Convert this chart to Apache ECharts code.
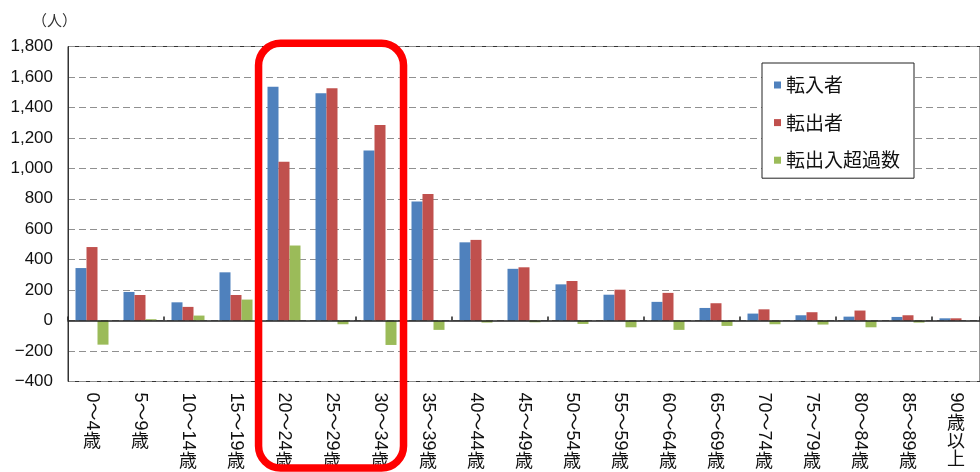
<!DOCTYPE html>
<html><head><meta charset="utf-8">
<script src="https://cdn.jsdelivr.net/npm/echarts@6/dist/echarts.min.js"></script>
<style>html,body{margin:0;padding:0;background:#fff}#c{width:980px;height:472px}</style>
</head><body><div id="c"></div>
<script>
// ---- data ----
const categories = ['0～4歳','5～9歳','10～14歳','15～19歳','20～24歳','25～29歳','30～34歳','35～39歳','40～44歳','45～49歳','50～54歳','55～59歳','60～64歳','65～69歳','70～74歳','75～79歳','80～84歳','85～89歳','90歳以上'];
const seriesNames = ['転入者','転出者','転出入超過数'];
const inMovers  = [345,188,120,317,1536,1493,1117,782,514,340,238,170,123,83,46,35,26,24,15];
const outMovers = [483,168,90,168,1043,1526,1285,832,530,350,260,203,182,114,74,55,66,35,15];
const netMigration = [-158,9,33,138,493,-24,-160,-61,-13,-11,-22,-44,-61,-35,-24,-26,-44,-13,0];
const yMin = -400, yMax = 1800, yStep = 200;
const unitLabel = '（人）';
const highlightFrom = 4, highlightTo = 6;

// ---- styling ----
const colors = ['#4F81BD','#C0504D','#9BBB59'];
const numFont = "'Liberation Sans', 'Noto Sans CJK JP', sans-serif";
const cjkFont = "'Noto Sans CJK JP', sans-serif";
const xFontSize = 18;

function splitLabel(s){ const m = s.match(/^([0-9～]+)(.*)$/); return m ? [m[1], m[2]] : [s, '']; }
const ctx = document.createElement('canvas').getContext('2d');
ctx.font = xFontSize + 'px ' + numFont;
const rich = { t: { fontSize: xFontSize, lineHeight: 18.3, fontFamily: cjkFont, color: '#111' } };
categories.forEach((c, i) => {
  rich['g' + i] = { fontSize: 1, lineHeight: ctx.measureText(splitLabel(c)[0]).width };
});

const chart = echarts.init(document.getElementById('c'), null, {renderer: 'canvas'});
const labelMargin = 11;
const option = {
  animation: false,
  title: { text: unitLabel, left: 32, top: 13, padding: 0,
    textStyle: { fontSize: 15, fontWeight: 'normal', color: '#333', fontFamily: cjkFont } },
  legend: {
    data: seriesNames, orient: 'vertical', left: 762, top: 63,
    padding: [12, 14, 8, 12], itemGap: 17.6, itemWidth: 7, itemHeight: 7, icon: 'rect',
    backgroundColor: '#fff', borderColor: '#222', borderWidth: 1, borderRadius: 0,
    textStyle: { fontSize: 19, lineHeight: 20, color: '#111', fontFamily: cjkFont }
  },
  grid: { left: 68, right: -14.5, top: 46.5, bottom: 90.5, containLabel: false,
    show: true, borderColor: '#333', borderWidth: 1, backgroundColor: 'transparent' },
  xAxis: [
    { type: 'category', data: categories, position: 'bottom', z: 3,
      axisLine: { onZero: true, lineStyle: { color: '#222', width: 1.5 } },
      axisTick: { show: true, inside: true, length: 4, lineStyle: { color: '#222', width: 1.5 } },
      axisLabel: { show: false }, splitLine: { show: false } },
    { type: 'category', data: categories, position: 'bottom',
      axisLine: { show: false, onZero: false }, axisTick: { show: false }, splitLine: { show: false },
      axisLabel: { interval: 0, rotate: -90, margin: labelMargin, fontSize: xFontSize, color: '#111',
        fontFamily: numFont, hideOverlap: false, formatter: v => splitLabel(v)[0] } },
    { type: 'category', data: categories, position: 'bottom',
      axisLine: { show: false, onZero: false }, axisTick: { show: false }, splitLine: { show: false },
      axisLabel: { interval: 0, margin: labelMargin, hideOverlap: false, rich: rich,
        formatter: (v, i) => '{g' + i + '| }\n' + splitLabel(v)[1].split('').map(ch => '{t|' + ch + '}').join('\n') } }
  ],
  yAxis: {
    type: 'value', min: yMin, max: yMax, interval: yStep,
    axisLine: { show: true, lineStyle: { color: '#333', width: 1 } },
    axisTick: { show: false },
    axisLabel: { fontSize: 17, color: '#111', margin: 15, fontFamily: numFont,
      formatter: v => (v < 0 ? '−' : '') + Math.abs(v).toLocaleString('en-US') },
    splitLine: { show: true, lineStyle: { color: '#909090', type: [7, 4], width: 1 } }
  },
  series: [
    { name: seriesNames[0], type: 'bar', data: inMovers, barWidth: 11, barGap: '0%', itemStyle: { color: colors[0] } },
    { name: seriesNames[1], type: 'bar', data: outMovers, barWidth: 11, barGap: '0%', itemStyle: { color: colors[1] } },
    { name: seriesNames[2], type: 'bar', data: netMigration, barWidth: 11, barGap: '0%', itemStyle: { color: colors[2] } }
  ]
};
chart.setOption(option);

// highlight frame around the 20～34歳 bands, positioned through the axis scales
const bw = chart.convertToPixel({xAxisIndex: 0}, categories[1]) - chart.convertToPixel({xAxisIndex: 0}, categories[0]);
const xl = chart.convertToPixel({xAxisIndex: 0}, categories[highlightFrom]) - 0.53 * bw;
const xr = chart.convertToPixel({xAxisIndex: 0}, categories[highlightTo]) + 0.49 * bw;
const yt = chart.convertToPixel({yAxisIndex: 0}, yMax) - 3.2;
const yb = chart.getHeight() - 4;
chart.setOption({ graphic: [{ type: 'rect', z: 10, silent: true,
  shape: { x: xl, y: yt, width: xr - xl, height: yb - yt, r: 22 },
  style: { fill: 'none', stroke: '#FF0000', lineWidth: 7.5 } }] });
</script></body></html>
